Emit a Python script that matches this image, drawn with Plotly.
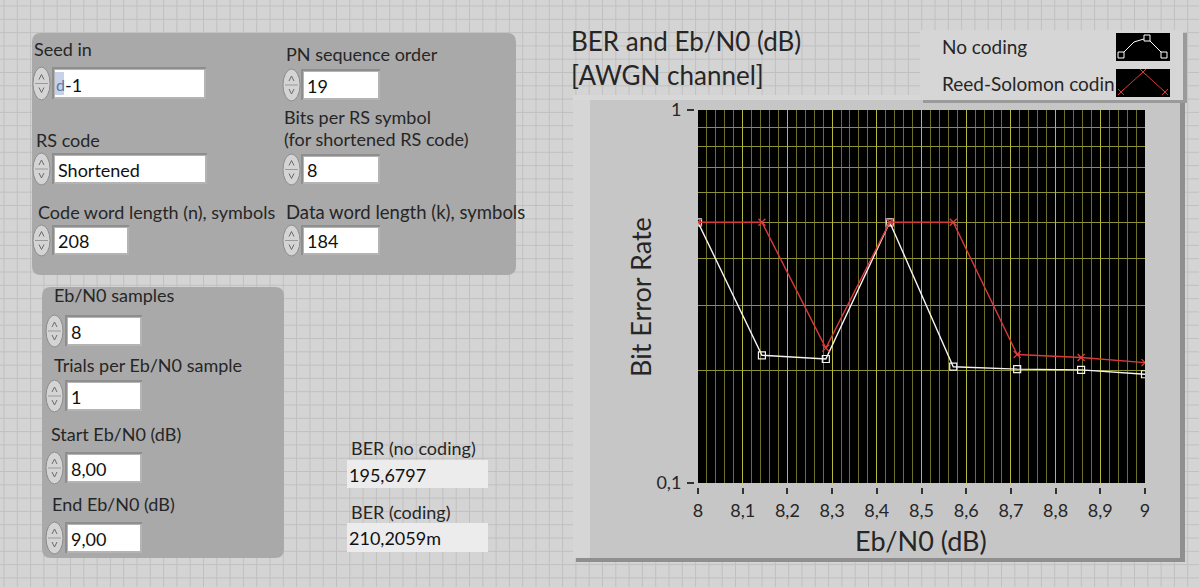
import plotly.graph_objects as go

W, H = 1199, 587

# ---------------- data ----------------
eb_n0 = [8.0, 8.143, 8.286, 8.429, 8.571, 8.714, 8.857, 9.0]
ber_no_coding = [0.5, 0.22, 0.215, 0.5, 0.205, 0.202, 0.201, 0.1957]
ber_rs_coding = [0.5, 0.5, 0.23, 0.5, 0.5, 0.221, 0.217, 0.2102]
x_ticks = [8.0, 8.1, 8.2, 8.3, 8.4, 8.5, 8.6, 8.7, 8.8, 8.9, 9.0]
x_ticktext = ["8", "8,1", "8,2", "8,3", "8,4", "8,5", "8,6", "8,7", "8,8", "8,9", "9"]
y_ticks = [0.1, 1]
y_ticktext = ["0,1", "1"]
y_minor = [0.2, 0.3, 0.4, 0.5, 0.6, 0.7, 0.8, 0.9]

FONT = "Lato"
TXT = "#262626"
LBL = 18


def X(x):
    return x / W


def Y(y):
    return 1 - y / H


shapes = []
annotations = []


def rect(x0, y0, x1, y1, fill, line=None, lw=0, layer="below"):
    shapes.append(dict(type="rect", xref="paper", yref="paper",
                       x0=X(x0), x1=X(x1), y0=Y(y1), y1=Y(y0),
                       fillcolor=fill, line=dict(color=line or fill, width=lw),
                       layer=layer))


def rrect(x0, y0, x1, y1, r, fill, line=None, lw=0):
    p = (f"M {X(x0 + r)},{Y(y0)} L {X(x1 - r)},{Y(y0)} Q {X(x1)},{Y(y0)} {X(x1)},{Y(y0 + r)} "
         f"L {X(x1)},{Y(y1 - r)} Q {X(x1)},{Y(y1)} {X(x1 - r)},{Y(y1)} "
         f"L {X(x0 + r)},{Y(y1)} Q {X(x0)},{Y(y1)} {X(x0)},{Y(y1 - r)} "
         f"L {X(x0)},{Y(y0 + r)} Q {X(x0)},{Y(y0)} {X(x0 + r)},{Y(y0)} Z")
    shapes.append(dict(type="path", xref="paper", yref="paper", path=p,
                       fillcolor=fill, line=dict(color=line or fill, width=lw), layer="below"))


def text(x, y, s, size=LBL, color=TXT, anchor="left", angle=0):
    annotations.append(dict(x=X(x), y=Y(y), xref="paper", yref="paper", text=s,
                            showarrow=False, xanchor=anchor, yanchor="middle",
                            textangle=angle, borderpad=0, borderwidth=0,
                            font=dict(family=FONT, size=size, color=color)))


def spinner(xs, y0, y1):
    yc = (y0 + y1) / 2
    shapes.append(dict(type="circle", xref="paper", yref="paper",
                       x0=X(xs), x1=X(xs + 17), y0=Y(y1 + 3), y1=Y(y0 - 3),
                       fillcolor="#d4d4d4", line=dict(color="#8c8c8c", width=1), layer="below"))
    shapes.append(dict(type="path", xref="paper", yref="paper",
                       path=f"M {X(xs + 2)},{Y(yc)} L {X(xs + 15)},{Y(yc)}",
                       line=dict(color="#9a9a9a", width=1), layer="below"))
    shapes.append(dict(type="path", xref="paper", yref="paper",
                       path=f"M {X(xs + 6)},{Y(yc - 4)} L {X(xs + 8.5)},{Y(yc - 9)} L {X(xs + 11)},{Y(yc - 4)}",
                       line=dict(color="#6a6a6a", width=1), layer="below"))
    shapes.append(dict(type="path", xref="paper", yref="paper",
                       path=f"M {X(xs + 6)},{Y(yc + 4)} L {X(xs + 8.5)},{Y(yc + 9)} L {X(xs + 11)},{Y(yc + 4)}",
                       line=dict(color="#6a6a6a", width=1), layer="below"))


def control(xs, x0, x1, y0, y1, s, fill="white", tx=3):
    rect(x0 - 3, y0 - 3, x1 + 2, y1 + 2, "#8e8e8e")
    rect(x0 - 1, y0 - 1, x1 + 2, y1 + 2, "#b4b4b4")
    rect(x0, y0, x1, y1, fill)
    spinner(xs, y0, y1)
    text(x0 + tx, (y0 + y1) / 2 + 1, s, color="#111111")


# ---------------- panel background with grid ----------------
rect(0, 0, W, H, "#d4d4d4")
step = 13.3
gp = []
x = 4.0
while x < W:
    gp.append(f"M {X(x)},{Y(0)} L {X(x)},{Y(H)}")
    x += step
y = 6.0
while y < H:
    gp.append(f"M {X(0)},{Y(y)} L {X(W)},{Y(y)}")
    y += step
shapes.append(dict(type="path", xref="paper", yref="paper", path=" ".join(gp),
                   line=dict(color="#c0c0c0", width=1), layer="below"))

# ---------------- clusters ----------------
rrect(32, 33, 516, 275, 9, "#a9a9a9")
rrect(42, 287, 284, 558, 9, "#a9a9a9")

# top-left cluster
text(34, 49, "Seed in")
control(33, 55, 204, 70, 97, "-1", tx=10)
rect(55, 72, 64, 95, "#c6d2e6")
text(56, 84, "d", size=16, color="#5a78a8")
text(286, 54, "PN sequence order")
control(283, 304, 378, 72, 98, "19")
text(36, 140, "RS code")
control(33, 55, 205, 156, 182, "Shortened")
text(284, 117, "Bits per RS symbol")
text(284, 139, "(for shortened RS code)")
control(283, 304, 378, 157, 182, "8")
text(38, 212, "Code word length (n), symbols")
text(286, 212, "Data word length (k), symbols", size=18.5)
control(33, 55, 127, 228, 253, "208")
control(283, 304, 378, 228, 253, "184")

# bottom-left cluster
text(54, 295, "Eb/N0 samples")
control(46, 68, 140, 318, 344, "8")
text(54, 365, "Trials per Eb/N0 sample")
control(46, 68, 140, 383, 409, "1")
text(51, 434, "Start Eb/N0 (dB)")
control(46, 68, 140, 455, 481, "8,00")
text(52, 504, "End Eb/N0 (dB)")
control(46, 68, 140, 525, 551, "9,00")

# indicators
text(351, 448, "BER (no coding)")
rect(347, 460, 488, 488, "#ececec")
text(349, 475, "195,6797", color="#111111")
text(351, 512, "BER (coding)")
rect(347, 523, 488, 552, "#ececec")
text(349, 538, "210,2059m", color="#111111")

# ---------------- graph frame ----------------
rect(576, 98, 1185, 562, "#8f8f8f")
rect(573, 95, 1180, 558, "#c6c6c6")
rect(573, 95, 590, 558, "#d6d6d6")
rect(573, 95, 1180, 100, "#d8d8d8")
rect(698, 110, 1145, 483, "black")

# title
text(571, 41, "BER and Eb/N0 (dB)", size=26)
text(571, 75, "[AWGN channel]", size=26)

# legend box
rect(923, 33, 1187, 103, "#9a9a9a")
rect(920, 30, 1183, 100, "#d6d6d6")
text(942, 47, "No coding", size=19)
text(942, 83, "Reed-Solomon codin", size=19)
rect(1116, 33, 1170, 61, "black", layer="above")
rect(1116, 69, 1170, 97, "black", layer="above")
shapes.append(dict(type="path", xref="paper", yref="paper", layer="above",
                   path=f"M {X(1121)},{Y(55)} L {X(1134)},{Y(42)} L {X(1147)},{Y(38)} L {X(1164)},{Y(55)}",
                   line=dict(color="white", width=1)))
for cx, cy in [(1121, 55), (1147, 38), (1164, 55)]:
    shapes.append(dict(type="rect", xref="paper", yref="paper", layer="above",
                       x0=X(cx - 3), x1=X(cx + 3), y0=Y(cy + 3), y1=Y(cy - 3),
                       line=dict(color="white", width=1), fillcolor="black"))
shapes.append(dict(type="path", xref="paper", yref="paper", layer="above",
                   path=f"M {X(1121)},{Y(92)} L {X(1143)},{Y(72)} L {X(1165)},{Y(92)}",
                   line=dict(color="#d83a3a", width=1)))
for cx, cy in [(1121, 92), (1143, 72), (1165, 92)]:
    shapes.append(dict(type="path", xref="paper", yref="paper", layer="above",
                       path=f"M {X(cx - 3)},{Y(cy - 3)} L {X(cx + 3)},{Y(cy + 3)} M {X(cx - 3)},{Y(cy + 3)} L {X(cx + 3)},{Y(cy - 3)}",
                       line=dict(color="#d83a3a", width=1)))

# axis titles
text(641, 297, "Bit Error Rate", size=27, anchor="center", angle=-90)
text(921, 540, "Eb/N0 (dB)", size=27, anchor="center")

# ---------------- traces ----------------
fig = go.Figure()
fig.add_trace(go.Scatter(x=eb_n0, y=ber_no_coding, mode="lines+markers", name="No coding",
                         line=dict(color="#f4f4f4", width=1.4),
                         marker=dict(symbol="square-open", size=7, color="#f4f4f4",
                                     line=dict(width=1.2))))
fig.add_trace(go.Scatter(x=eb_n0, y=ber_rs_coding, mode="lines+markers", name="Reed-Solomon coding",
                         line=dict(color="#d83a3a", width=1.4),
                         marker=dict(symbol="x-thin-open", size=7, color="#e04040",
                                     line=dict(width=1.2, color="#e04040"))))

fig.update_layout(
    width=W, height=H,
    margin=dict(l=0, r=0, t=0, b=0, autoexpand=False),
    paper_bgcolor="#d4d4d4", plot_bgcolor="black",
    showlegend=False,
    shapes=shapes, annotations=annotations,
    xaxis=dict(domain=[X(698), X(1145)], range=[8, 9], anchor="free", position=Y(487),
               automargin=False,
               tickmode="array", tickvals=x_ticks, ticktext=x_ticktext,
               ticks="outside", ticklen=6, tickwidth=1.5, tickcolor="#333333",
               ticklabelstandoff=1,
               tickfont=dict(family=FONT, size=18, color=TXT),
               showgrid=True, gridcolor="#b8b83c", gridwidth=1,
               minor=dict(tickmode="linear", tick0=8, dtick=0.02, showgrid=True,
                          gridcolor="#6f6f2a", gridwidth=1, ticks=""),
               zeroline=False, showline=False, fixedrange=True),
    yaxis=dict(domain=[Y(483), Y(110)], type="log", range=[-1, 0], anchor="free",
               position=X(694), automargin=False,
               tickmode="array", tickvals=y_ticks, ticktext=y_ticktext,
               ticks="outside", ticklen=7, tickwidth=1.5, tickcolor="#333333",
               ticklabelstandoff=2,
               tickfont=dict(family=FONT, size=18, color=TXT),
               showgrid=True, gridcolor="#8f8f35", gridwidth=1,
               minor=dict(tickmode="array", tickvals=y_minor, showgrid=True,
                          gridcolor="#8f8f35", gridwidth=1, ticks=""),
               zeroline=False, showline=False, fixedrange=True),
)

fig.write_html("out.html", post_script="document.body.style.margin='0';")
